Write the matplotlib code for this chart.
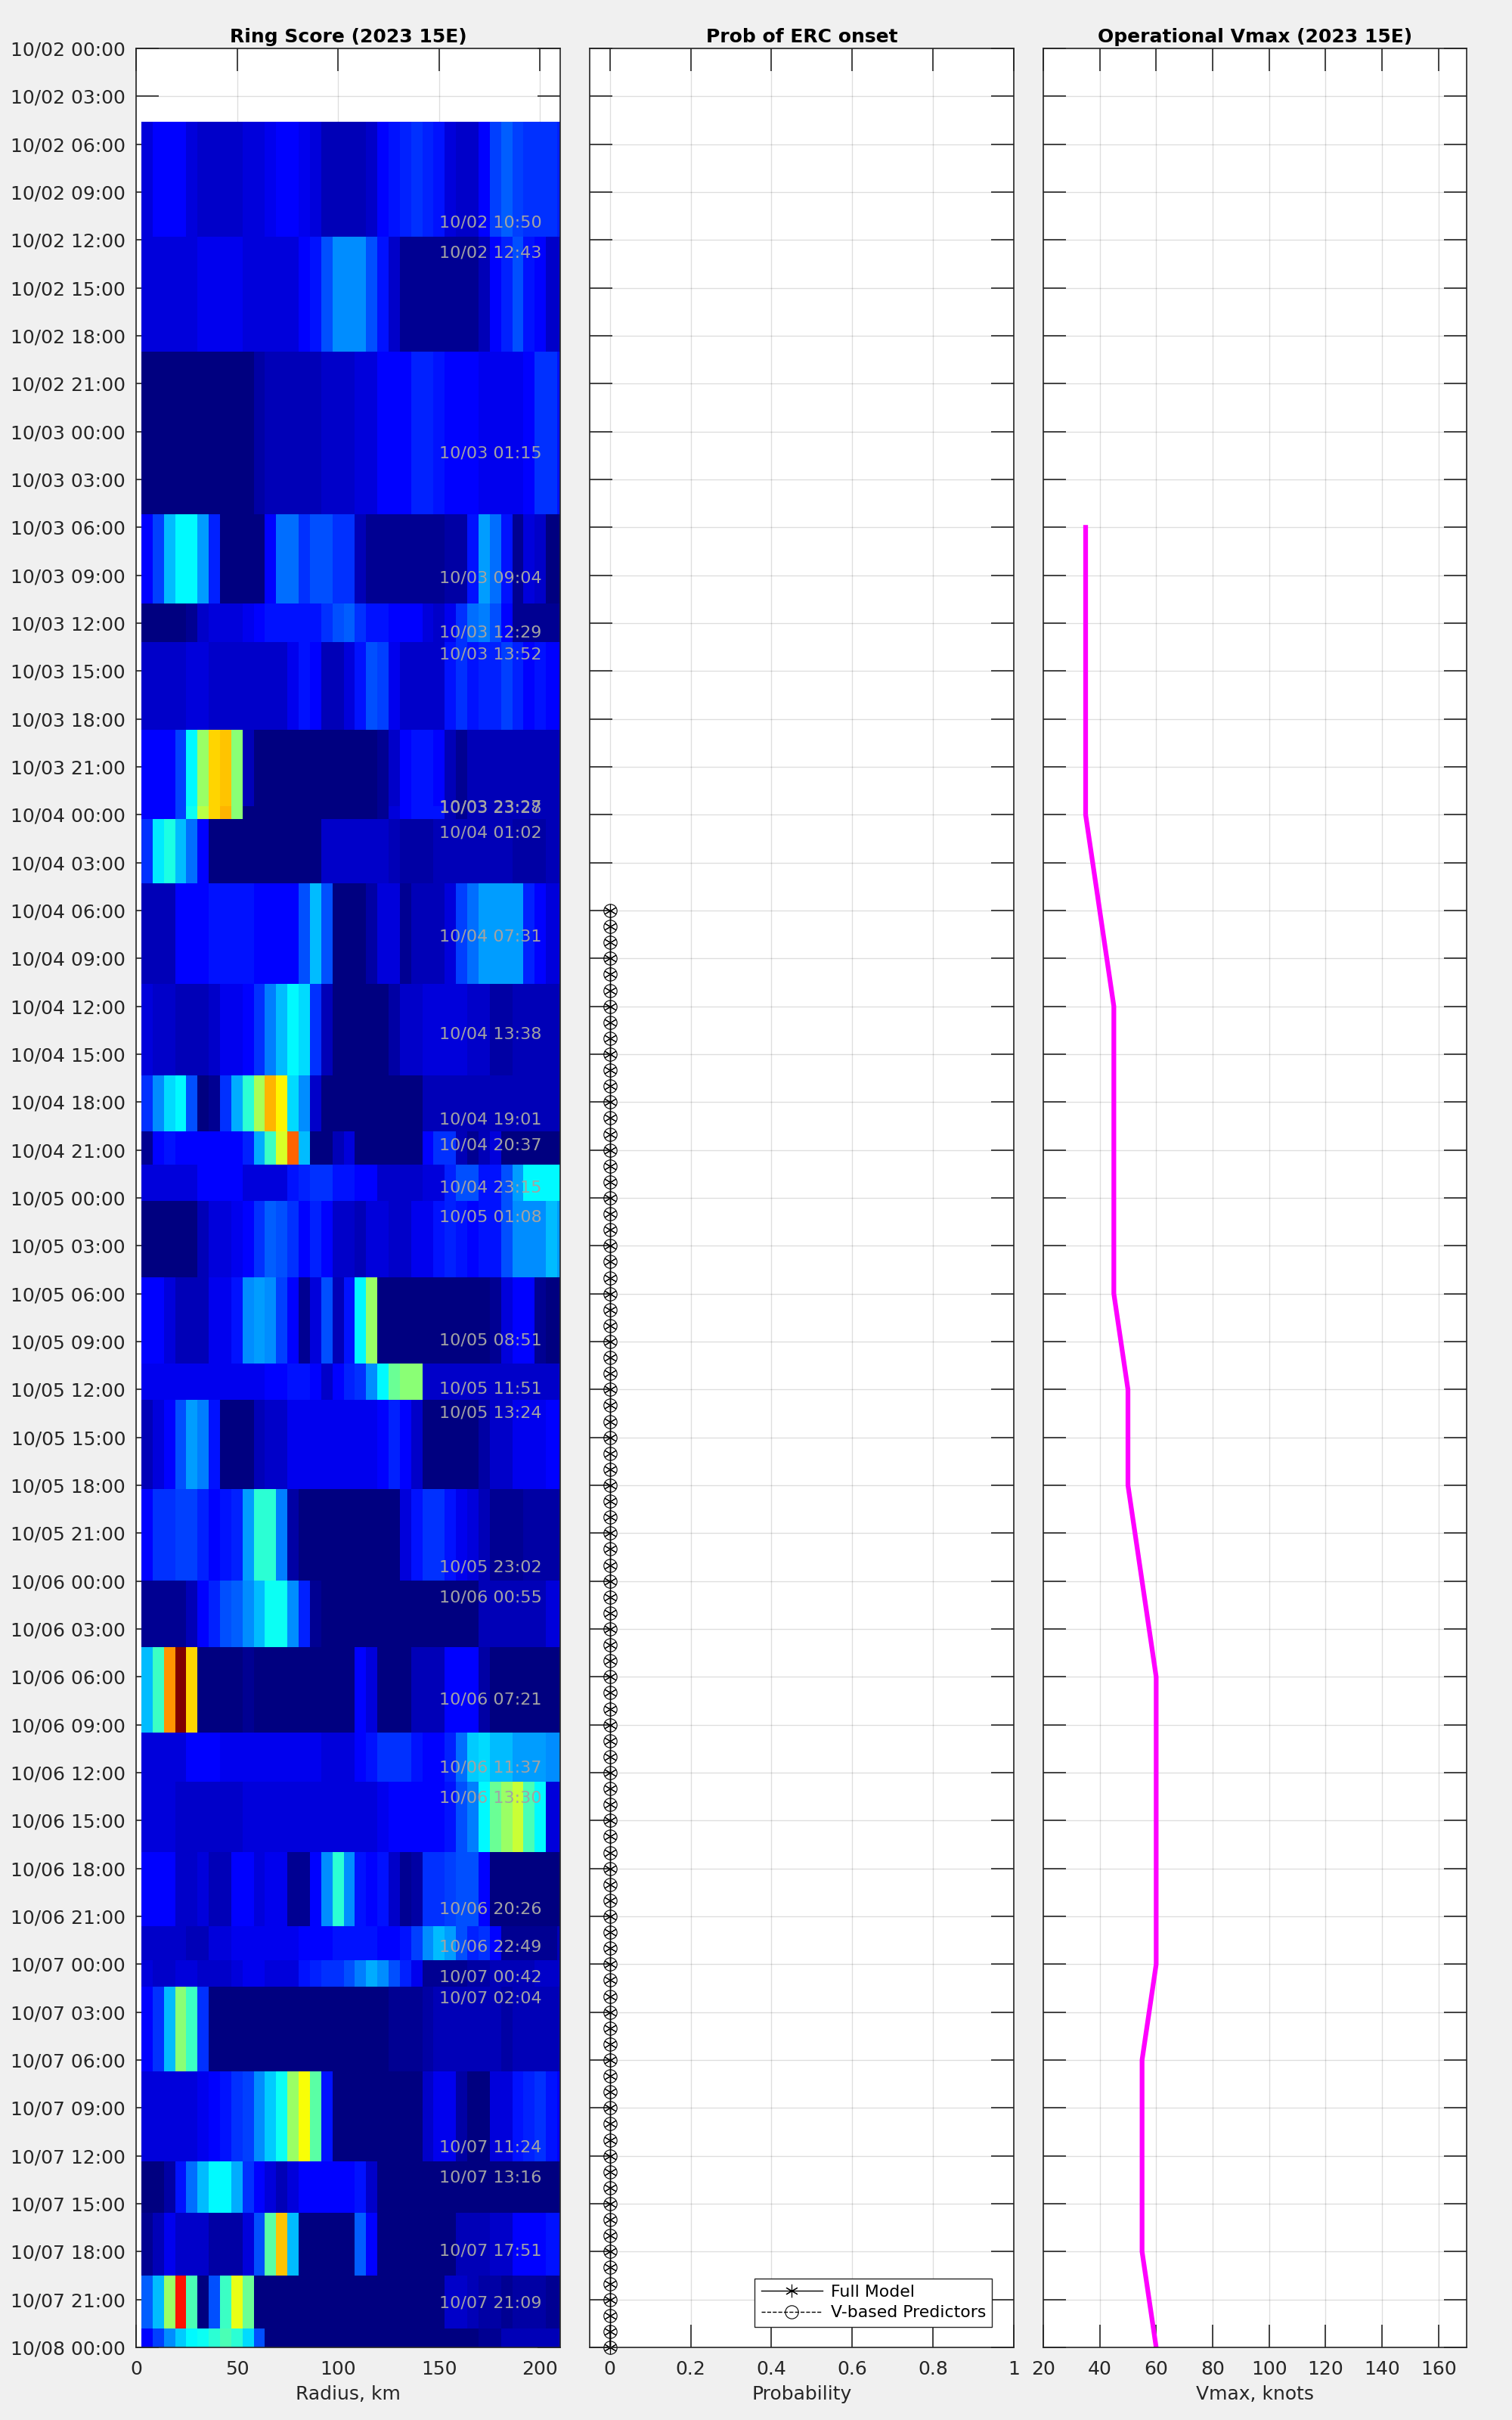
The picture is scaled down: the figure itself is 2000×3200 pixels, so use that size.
from datetime import datetime
import numpy as np
import pandas as pd
import matplotlib
matplotlib.use("Agg")
import matplotlib.pyplot as plt
import matplotlib.dates as mdates
from matplotlib.colors import LinearSegmentedColormap

# scan times, one row of ring score per scan
scan_times = ["10/02 10:50", "10/02 12:43", "10/03 01:15", "10/03 09:04", "10/03 12:29", "10/03 13:52",
              "10/03 23:27", "10/03 23:28", "10/04 01:02", "10/04 07:31", "10/04 13:38", "10/04 19:01",
              "10/04 20:37", "10/04 23:15", "10/05 01:08", "10/05 08:51", "10/05 11:51", "10/05 13:24",
              "10/05 23:02", "10/06 00:55", "10/06 07:21", "10/06 11:37", "10/06 13:30", "10/06 20:26",
              "10/06 22:49", "10/07 00:42", "10/07 02:04", "10/07 11:24", "10/07 13:16", "10/07 17:51",
              "10/07 21:09", "10/08 00:31"]
first_edge = "10/02 04:36"

r_start = 2.6
r_step = 5.565

# ring score x 100, 38 radial bins
ring = [
    [9,11,11,11,8,7,7,7,7,8,9,10,12,12,10,8,6,6,6,6,7,12,13,15,17,15,13,9,7,7,11,18,21,18,16,16,16,15],
    [9,9,9,8,9,10,10,10,10,9,8,8,8,9,12,14,19,25,25,25,20,14,7,2,2,2,2,2,2,2,6,11,15,19,14,12,7,7],
    [0,0,0,0,0,0,0,0,0,0,4,6,5,5,5,5,7,7,7,8,9,11,12,12,15,15,14,12,12,12,10,10,10,10,12,16,16,14],
    [11,18,30,36,36,28,15,1,1,1,1,12,22,22,17,20,20,16,16,6,2,2,2,2,2,2,2,4,4,13,27,22,13,3,9,7,1,1],
    [1,1,1,1,3,7,8,8,9,10,12,14,14,14,14,14,17,19,21,17,14,14,12,12,12,8,7,10,16,22,24,19,12,2,2,2,2,2],
    [7,7,7,7,8,8,7,7,7,7,7,7,7,10,13,11,6,6,8,14,20,18,10,7,7,7,7,13,16,14,15,15,18,15,12,13,11,11],
    [11,11,11,18,36,53,66,68,50,5,0,0,0,0,0,0,0,0,0,0,0,2,7,11,13,13,11,6,3,6,6,6,6,6,6,6,6,6],
    [11,11,11,18,38,55,66,70,50,0,0,0,0,0,0,0,0,0,0,0,0,2,9,11,13,13,13,6,3,6,6,6,6,6,6,6,6,6],
    [17,35,40,30,22,11,0,0,0,0,0,0,0,0,0,0,7,7,7,7,7,7,6,4,4,4,6,6,6,6,5,6,5,4,4,4,5,5],
    [6,6,6,11,11,12,14,14,13,13,11,11,11,11,19,30,20,1,1,1,4,9,9,3,5,6,5,9,18,23,27,27,28,28,15,11,8,8],
    [8,7,7,5,5,5,7,10,10,11,16,24,30,37,34,17,6,0,0,0,0,0,4,7,7,9,9,9,9,7,7,4,4,6,6,6,6,6],
    [17,26,34,37,19,1,3,16,29,41,54,70,63,33,25,7,1,1,1,1,1,1,1,1,1,6,6,6,6,6,6,6,6,6,6,6,6,6],
    [2,11,14,11,11,12,12,12,11,15,29,43,58,77,30,0,0,6,9,0,0,0,0,0,0,12,17,17,6,2,6,9,0,0,0,0,0,0],
    [8,8,8,8,8,11,11,11,11,9,9,9,9,13,15,17,17,14,14,12,11,7,7,7,7,8,8,15,20,20,13,13,20,28,36,37,37,37],
    [1,1,1,1,1,5,8,8,10,12,16,21,20,17,12,15,11,7,7,5,8,8,7,7,10,10,14,15,13,11,13,13,19,26,26,26,30,28],
    [11,11,8,6,6,6,10,10,13,26,28,25,18,11,2,9,20,5,14,37,53,0,0,0,0,0,0,0,0,0,0,3,9,12,12,3,1,1],
    [10,10,10,10,10,10,10,10,10,10,10,11,12,14,14,11,7,11,15,17,26,37,47,50,50,7,7,7,7,7,7,7,7,7,7,7,7,7],
    [6,8,11,20,27,24,14,1,1,1,5,7,7,10,10,10,10,10,10,10,10,12,15,12,7,1,1,1,1,1,4,7,7,10,10,10,11,11],
    [12,17,17,18,18,15,12,13,15,28,42,41,24,4,0,0,0,0,0,0,0,0,0,9,14,17,17,14,10,8,5,2,2,2,4,4,4,4],
    [2,2,2,2,5,11,15,19,21,25,31,39,39,26,15,2,0,0,0,0,0,0,0,0,0,0,0,0,0,0,5,5,5,5,5,6,8,8],
    [30,43,73,100,67,0,0,0,0,3,0,0,0,0,0,0,0,0,0,11,8,0,0,0,5,5,5,11,11,11,4,1,1,1,1,1,1,1],
    [9,9,9,9,11,11,11,10,10,10,10,10,10,10,10,10,9,9,9,12,14,17,17,17,13,12,12,15,22,32,34,31,31,28,28,28,26,26],
    [8,9,9,7,7,7,7,7,7,8,8,8,8,8,8,8,9,8,8,8,8,10,12,12,12,12,12,14,20,24,37,47,52,57,45,36,8,8],
    [11,11,11,7,7,8,5,5,11,11,8,10,10,2,2,11,26,42,25,14,12,14,7,2,4,16,17,18,20,20,12,0,0,0,0,0,0,0],
    [7,7,7,7,5,5,8,8,10,10,10,10,10,10,11,11,12,14,14,14,13,11,11,13,18,26,30,27,20,15,16,12,3,3,3,3,3,5],
    [9,7,7,9,8,7,7,7,9,10,10,9,9,9,13,15,17,17,19,24,29,25,20,15,10,2,3,3,3,4,4,6,6,6,6,7,7,7],
    [11,16,31,50,43,17,0,0,0,0,0,0,0,0,0,0,0,0,0,0,0,0,3,3,3,4,6,6,6,6,6,6,4,6,6,6,6,6],
    [8,8,8,8,8,10,11,13,16,18,25,32,39,53,62,46,14,0,0,0,0,0,0,0,0,7,10,10,4,1,1,9,9,13,15,16,13,11],
    [1,1,4,13,22,30,37,37,29,16,11,8,6,8,11,11,11,11,11,13,7,0,0,0,0,0,0,0,0,0,0,0,0,0,0,0,0,0],
    [3,5,10,7,7,7,4,4,4,9,19,46,68,30,0,0,0,0,0,21,11,0,0,0,0,0,0,0,6,6,5,7,7,12,12,11,14,14],
    [21,31,53,85,44,1,20,43,60,47,0,0,0,0,0,0,0,0,0,0,0,0,0,0,0,0,0,7,7,5,4,4,2,4,4,4,3,3],
    [11,18,25,32,36,38,41,44,41,34,19,0,0,0,0,0,0,0,0,0,0,0,0,0,0,0,0,0,0,0,3,3,6,6,6,6,6,6],
]

# probability of ERC onset, hourly from 10/04 06:00 to 10/08 00:00
prob_start = "10/04 06:00"
prob_full = [0.0] * 91
prob_v = [0.0] * 91

# operational Vmax, 6 hourly
vmax_start = "10/03 06:00"
vmax = [35, 35, 35, 35, 40, 45, 45, 45, 45, 50, 50, 55, 60, 60, 60, 60, 55, 55, 55, 60]

t_min = "10/02 00:00"
t_max = "10/08 00:00"
GREY = "#f0f0f0"
FS = 18

# matlab style jet, matplotlib's own has its cyan in another place
jet64 = LinearSegmentedColormap.from_list(
    "jet64", [(0, (0, 0, 0.5)), (0.11, (0, 0, 1)), (0.37, (0, 1, 1)), (0.625, (1, 1, 0)),
              (0.875, (1, 0, 0)), (1, (0.5, 0, 0))], N=64)


def to_date(s):
    return datetime.strptime("2023/" + s, "%Y/%m/%d %H:%M")


def place(left, right):
    # pixel box of one panel to figure fractions
    return [left / 2000, 1 - 3104 / 3200, (right - left) / 2000, 3040 / 3200]


scan_num = mdates.date2num([to_date(s) for s in scan_times])
y_edges = np.concatenate([[mdates.date2num(to_date(first_edge))], (scan_num[:-1] + scan_num[1:]) / 2,
                          [mdates.date2num(to_date(t_max))]])
r_edges = r_start + r_step * np.arange(len(ring[0]) + 1)
yticks = mdates.date2num(pd.date_range(to_date(t_min), to_date(t_max), freq="3h").to_pydatetime())

fig = plt.figure(figsize=(20, 32), dpi=100, facecolor=GREY)


def style(ax, xticks, xlim):
    ax.set_xlim(*xlim)
    ax.set_xticks(xticks)
    ax.set_ylim(mdates.date2num(to_date(t_max)), mdates.date2num(to_date(t_min)))
    ax.set_yticks(yticks)
    ax.set_axisbelow(True)
    ax.grid(True, color="black", alpha=0.13, lw=1)
    ax.tick_params(axis="both", which="both", direction="in", length=21.5, width=1.2, color="#262626",
                   top=True, right=True, labelsize=FS, labelcolor="#262626", pad=12)
    for sp in ax.spines.values():
        sp.set_color("#262626")
        sp.set_linewidth(1.2)


# ring score
ax1 = fig.add_axes(place(180, 741))
ax1.pcolormesh(r_edges, y_edges, np.array(ring) / 100, cmap=jet64, vmin=0, vmax=1, shading="flat")
style(ax1, [0, 50, 100, 150, 200], (0, 210))
ax1.yaxis.set_major_formatter(mdates.DateFormatter("%m/%d %H:%M"))
ax1.tick_params(axis="y", pad=10)
ax1.set_title("Ring Score (2023 15E)", fontsize=FS, fontweight="bold", pad=6)
ax1.set_xlabel("Radius, km", fontsize=FS, color="#262626", labelpad=7)
for s, t in zip(scan_times, scan_num):
    if t < mdates.date2num(to_date(t_max)):
        ax1.text(150, t, s, color="#a3a3a3", fontsize=16, ha="left", va="center_baseline")

# probability
ax2 = fig.add_axes(place(780, 1341))
prob_t = mdates.date2num(pd.date_range(to_date(prob_start), periods=len(prob_full), freq="1h").to_pydatetime())
ax2.plot(prob_full, prob_t, "-", color="black", lw=1, marker=(6, 2, 0), ms=12.5, mew=0.8,
         clip_on=False, label="Full Model")
ax2.plot(prob_v, prob_t, "--", color="black", lw=1, marker="o", ms=12.5, mew=0.8, mfc="none",
         clip_on=False, label="V-based Predictors")
style(ax2, [0, 0.2, 0.4, 0.6, 0.8, 1], (-0.05, 1))
ax2.set_xticklabels(["0", "0.2", "0.4", "0.6", "0.8", "1"])
ax2.tick_params(labelleft=False)
ax2.set_title("Prob of ERC onset", fontsize=FS, fontweight="bold", pad=6)
ax2.set_xlabel("Probability", fontsize=FS, color="#262626", labelpad=7)
ax2.legend(loc="lower right", bbox_to_anchor=(0.949, 0.009), fontsize=15.8, fancybox=False, framealpha=1,
           edgecolor="#262626", borderaxespad=0, borderpad=0.38, labelspacing=0.34, handlelength=3.7,
           handletextpad=0.5, labelcolor="black")

# operational Vmax
ax3 = fig.add_axes(place(1380, 1940))
vmax_t = mdates.date2num(pd.date_range(to_date(vmax_start), periods=len(vmax), freq="6h").to_pydatetime())
ax3.plot(vmax, vmax_t, color="magenta", lw=4.5)
style(ax3, list(range(20, 161, 20)), (20, 170))
ax3.tick_params(labelleft=False)
ax3.set_title("Operational Vmax (2023 15E)", fontsize=FS, fontweight="bold", pad=6)
ax3.set_xlabel("Vmax, knots", fontsize=FS, color="#262626", labelpad=7)

fig.savefig("out.png", dpi=100, facecolor=GREY)
